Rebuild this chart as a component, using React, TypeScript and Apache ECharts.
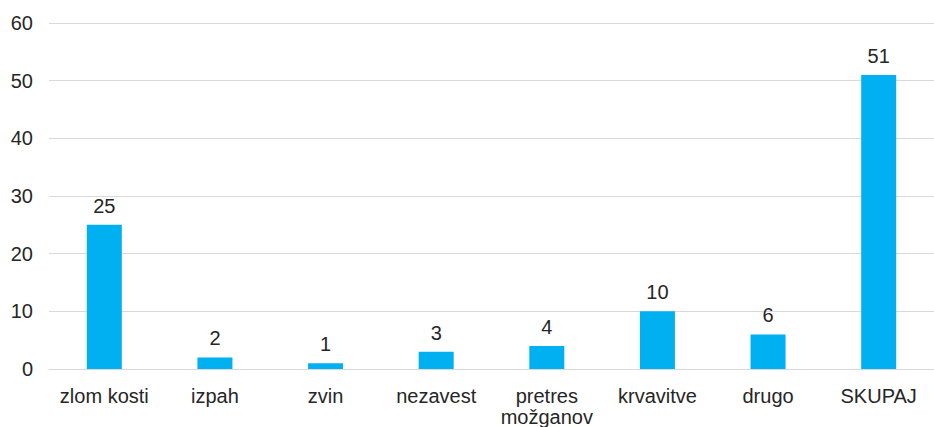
import React, { useEffect, useRef } from "react";
import * as echarts from "echarts";

const categories = ["zlom kosti", "izpah", "zvin", "nezavest", "pretres\nmožganov", "krvavitve", "drugo", "SKUPAJ"];
const values = [25, 2, 1, 3, 4, 10, 6, 51];

export default function App() {
  const ref = useRef<HTMLDivElement>(null);
  useEffect(() => {
    const chart = echarts.init(ref.current!, null, { renderer: "svg" });
    chart.setOption({
      animation: false,
      backgroundColor: "#ffffff",
      textStyle: { fontFamily: "Liberation Sans, Arial, sans-serif" },
      grid: { left: 49, right: -7, top: 23, bottom: 56, containLabel: false },
      xAxis: {
        type: "category",
        data: categories,
        axisTick: { show: false },
        axisLine: { lineStyle: { color: "#d9d9d9", width: 1 } },
        axisLabel: { color: "#262626", fontSize: 20, margin: 16, lineHeight: 21, interval: 0 },
      },
      yAxis: {
        type: "value",
        min: 0,
        max: 60,
        interval: 10,
        axisLine: { show: false },
        axisTick: { show: false },
        splitLine: { lineStyle: { color: "#d9d9d9", width: 1 } },
        axisLabel: { color: "#262626", fontSize: 20, margin: 16 },
      },
      series: [
        {
          type: "bar",
          data: values,
          barWidth: 35,
          itemStyle: { color: "#00B0F0" },
          label: { show: true, position: "top", distance: 9, color: "#262626", fontSize: 20 },
        },
      ],
    });
    return () => chart.dispose();
  }, []);
  return <div ref={ref} style={{ position: "fixed", left: 0, top: 0, width: 934, height: 427 }} />;
}
